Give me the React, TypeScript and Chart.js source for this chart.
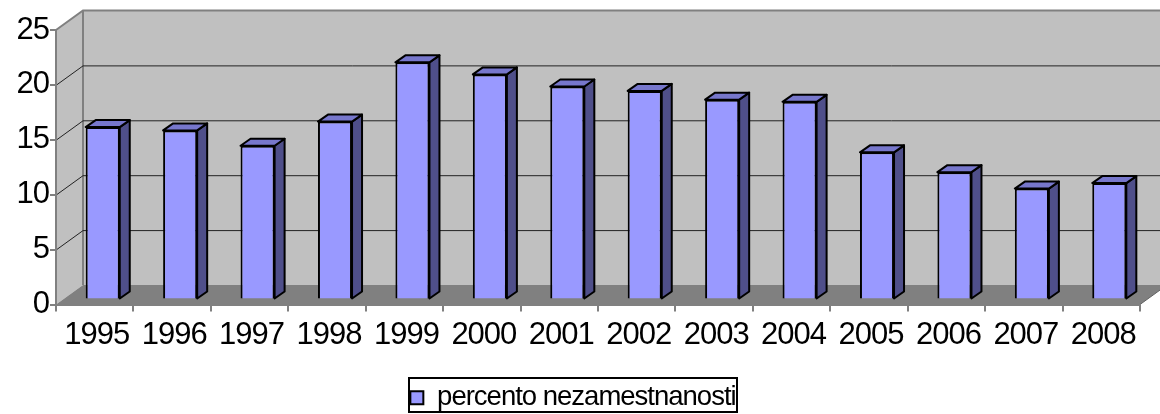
import React, { useEffect, useRef } from "react";
import { Chart, registerables } from "chart.js";

Chart.register(...registerables);

const years = ["1995","1996","1997","1998","1999","2000","2001","2002","2003","2004","2005","2006","2007","2008"];
const unemployment = [15.7,15.4,14.0,16.2,21.6,20.5,19.4,19.0,18.2,18.0,13.4,11.6,10.1,10.6];
const seriesName = "percento nezamestnanosti";
const yTicks = [0,5,10,15,20,25];

const WALL_DX = 27, WALL_DY = 19.5;
const BAR_DX = 10, BAR_DY = 7;
const BAR_SHIFT_X = 8, BAR_SHIFT_Y = 5;

const WALL = "#C0C0C0", FLOOR = "#808080", EDGE = "#808080";
const FACE = "#9999FF", SIDE = "#4F4F8A", TOP = "#7777CC";

function poly(ctx: CanvasRenderingContext2D, pts: number[][], fill: string | null, stroke: string | null, lw = 1) {
  ctx.beginPath();
  pts.forEach((p, i) => (i ? ctx.lineTo(p[0], p[1]) : ctx.moveTo(p[0], p[1])));
  ctx.closePath();
  if (fill) { ctx.fillStyle = fill; ctx.fill(); }
  if (stroke) { ctx.strokeStyle = stroke; ctx.lineWidth = lw; ctx.lineJoin = "round"; ctx.stroke(); }
}

const threeD = {
  id: "threeD",
  beforeLayout(chart: any) {
    (chart.ctx as any).letterSpacing = "-1px";
  },
  afterLayout(chart: any) {
    const lg = chart.legend;
    lg.left = 408; lg.right = 738; lg.width = 330;
    lg.top = 377; lg.bottom = 413; lg.height = 36;
  },
  beforeDraw(chart: any) {
    const { ctx, chartArea: a, scales } = chart;
    const { left: l, right: r, top: t, bottom: b } = a;
    ctx.save();
    poly(ctx, [[l + WALL_DX, t - WALL_DY], [r + WALL_DX, t - WALL_DY], [r + WALL_DX, b - WALL_DY], [l + WALL_DX, b - WALL_DY]], WALL, null);
    poly(ctx, [[l, t], [l + WALL_DX, t - WALL_DY], [l + WALL_DX, b - WALL_DY], [l, b]], WALL, null);
    poly(ctx, [[l, b], [l + WALL_DX, b - WALL_DY], [r + WALL_DX, b - WALL_DY], [r, b]], FLOOR, null);
    ctx.strokeStyle = EDGE;
    ctx.lineWidth = 2;
    ctx.beginPath();
    ctx.moveTo(l, t);
    ctx.lineTo(l + WALL_DX, t - WALL_DY);
    ctx.lineTo(r + WALL_DX, t - WALL_DY);
    ctx.moveTo(l + WALL_DX, t - WALL_DY);
    ctx.lineTo(l + WALL_DX, b - WALL_DY);
    ctx.stroke();
    for (const v of yTicks) {
      if (v === 0 || v === 25) continue;
      const y = scales.y.getPixelForValue(v);
      ctx.strokeStyle = "#222222";
      ctx.lineWidth = 1;
      ctx.beginPath();
      ctx.moveTo(l, y + 0.5);
      ctx.lineTo(l + WALL_DX, y - WALL_DY + 0.5);
      ctx.lineTo(r + WALL_DX, y - WALL_DY + 0.5);
      ctx.stroke();
    }
    ctx.beginPath();
    ctx.moveTo(r, b);
    ctx.lineTo(r + WALL_DX, b - WALL_DY);
    ctx.strokeStyle = "#606060";
    ctx.lineWidth = 1;
    ctx.stroke();
    ctx.restore();
  },
  beforeDatasetDraw(chart: any) {
    const { ctx } = chart;
    const bars = chart.getDatasetMeta(0).data;
    ctx.save();
    ctx.translate(BAR_SHIFT_X, -BAR_SHIFT_Y);
    for (const bar of bars) {
      const { x, y, base, width } = bar.getProps(["x", "y", "base", "width"], true);
      const xl = x - width / 2, xr = x + width / 2;
      poly(ctx, [[xr, y], [xr + BAR_DX, y - BAR_DY], [xr + BAR_DX, base - BAR_DY], [xr, base]], SIDE, "#000000", 2);
      poly(ctx, [[xl, y], [xl + BAR_DX, y - BAR_DY], [xr + BAR_DX, y - BAR_DY], [xr, y]], TOP, "#000000", 2);
    }
  },
  afterDatasetDraw(chart: any) {
    chart.ctx.restore();
  },
  afterDraw(chart: any) {
    const { ctx, legend } = chart;
    ctx.save();
    ctx.strokeStyle = "#000000";
    ctx.lineWidth = 2;
    ctx.strokeRect(legend.left + 1, legend.top + 1, legend.width - 2, legend.height - 2);
    ctx.restore();
  },
};

export default function App() {
  const ref = useRef<HTMLCanvasElement>(null);
  useEffect(() => {
    document.body.style.margin = "0";
    const chart = new Chart(ref.current!, {
      type: "bar",
      data: {
        labels: years,
        datasets: [{
          label: seriesName,
          data: unemployment,
          backgroundColor: FACE,
          borderColor: "#000000",
          borderWidth: 2,
          barPercentage: 0.44,
          categoryPercentage: 1,
          clip: false as any,
        }],
      },
      options: {
        animation: false,
        responsive: false,
        layout: { padding: { left: 8, right: 20, top: 30, bottom: 1 } },
        plugins: {
          tooltip: { enabled: false },
          title: { display: false },
          legend: {
            display: true,
            position: "bottom",
            labels: {
              boxWidth: 13,
              boxHeight: 13,
              padding: 7,
              color: "#000000",
              font: { family: "'Liberation Sans'", size: 27.5 },
            },
          },
        },
        scales: {
          x: {
            grid: { drawOnChartArea: false, color: EDGE, tickLength: 7, lineWidth: 2 },
            border: { color: EDGE, width: 2 },
            ticks: { color: "#000000", font: { family: "'Liberation Sans'", size: 31 }, padding: 5, labelOffset: 2, maxRotation: 0, autoSkip: false },
            afterFit: (s: any) => { s.height = 64; },
          },
          y: {
            min: 0,
            max: 25,
            afterBuildTicks: (s: any) => { s.ticks = yTicks.map((value) => ({ value })); },
            grid: { drawOnChartArea: false, color: EDGE, tickLength: 6, lineWidth: 2 },
            border: { color: EDGE, width: 2 },
            ticks: { color: "#000000", font: { family: "'Liberation Sans'", size: 31 }, padding: 1 },
            afterFit: (s: any) => { s.width = 48; },
          },
        },
      },
      plugins: [threeD],
    });
    return () => chart.destroy();
  }, []);
  return <canvas ref={ref} width={1160} height={414} style={{ display: "block", width: 1160, height: 414 }} />;
}
